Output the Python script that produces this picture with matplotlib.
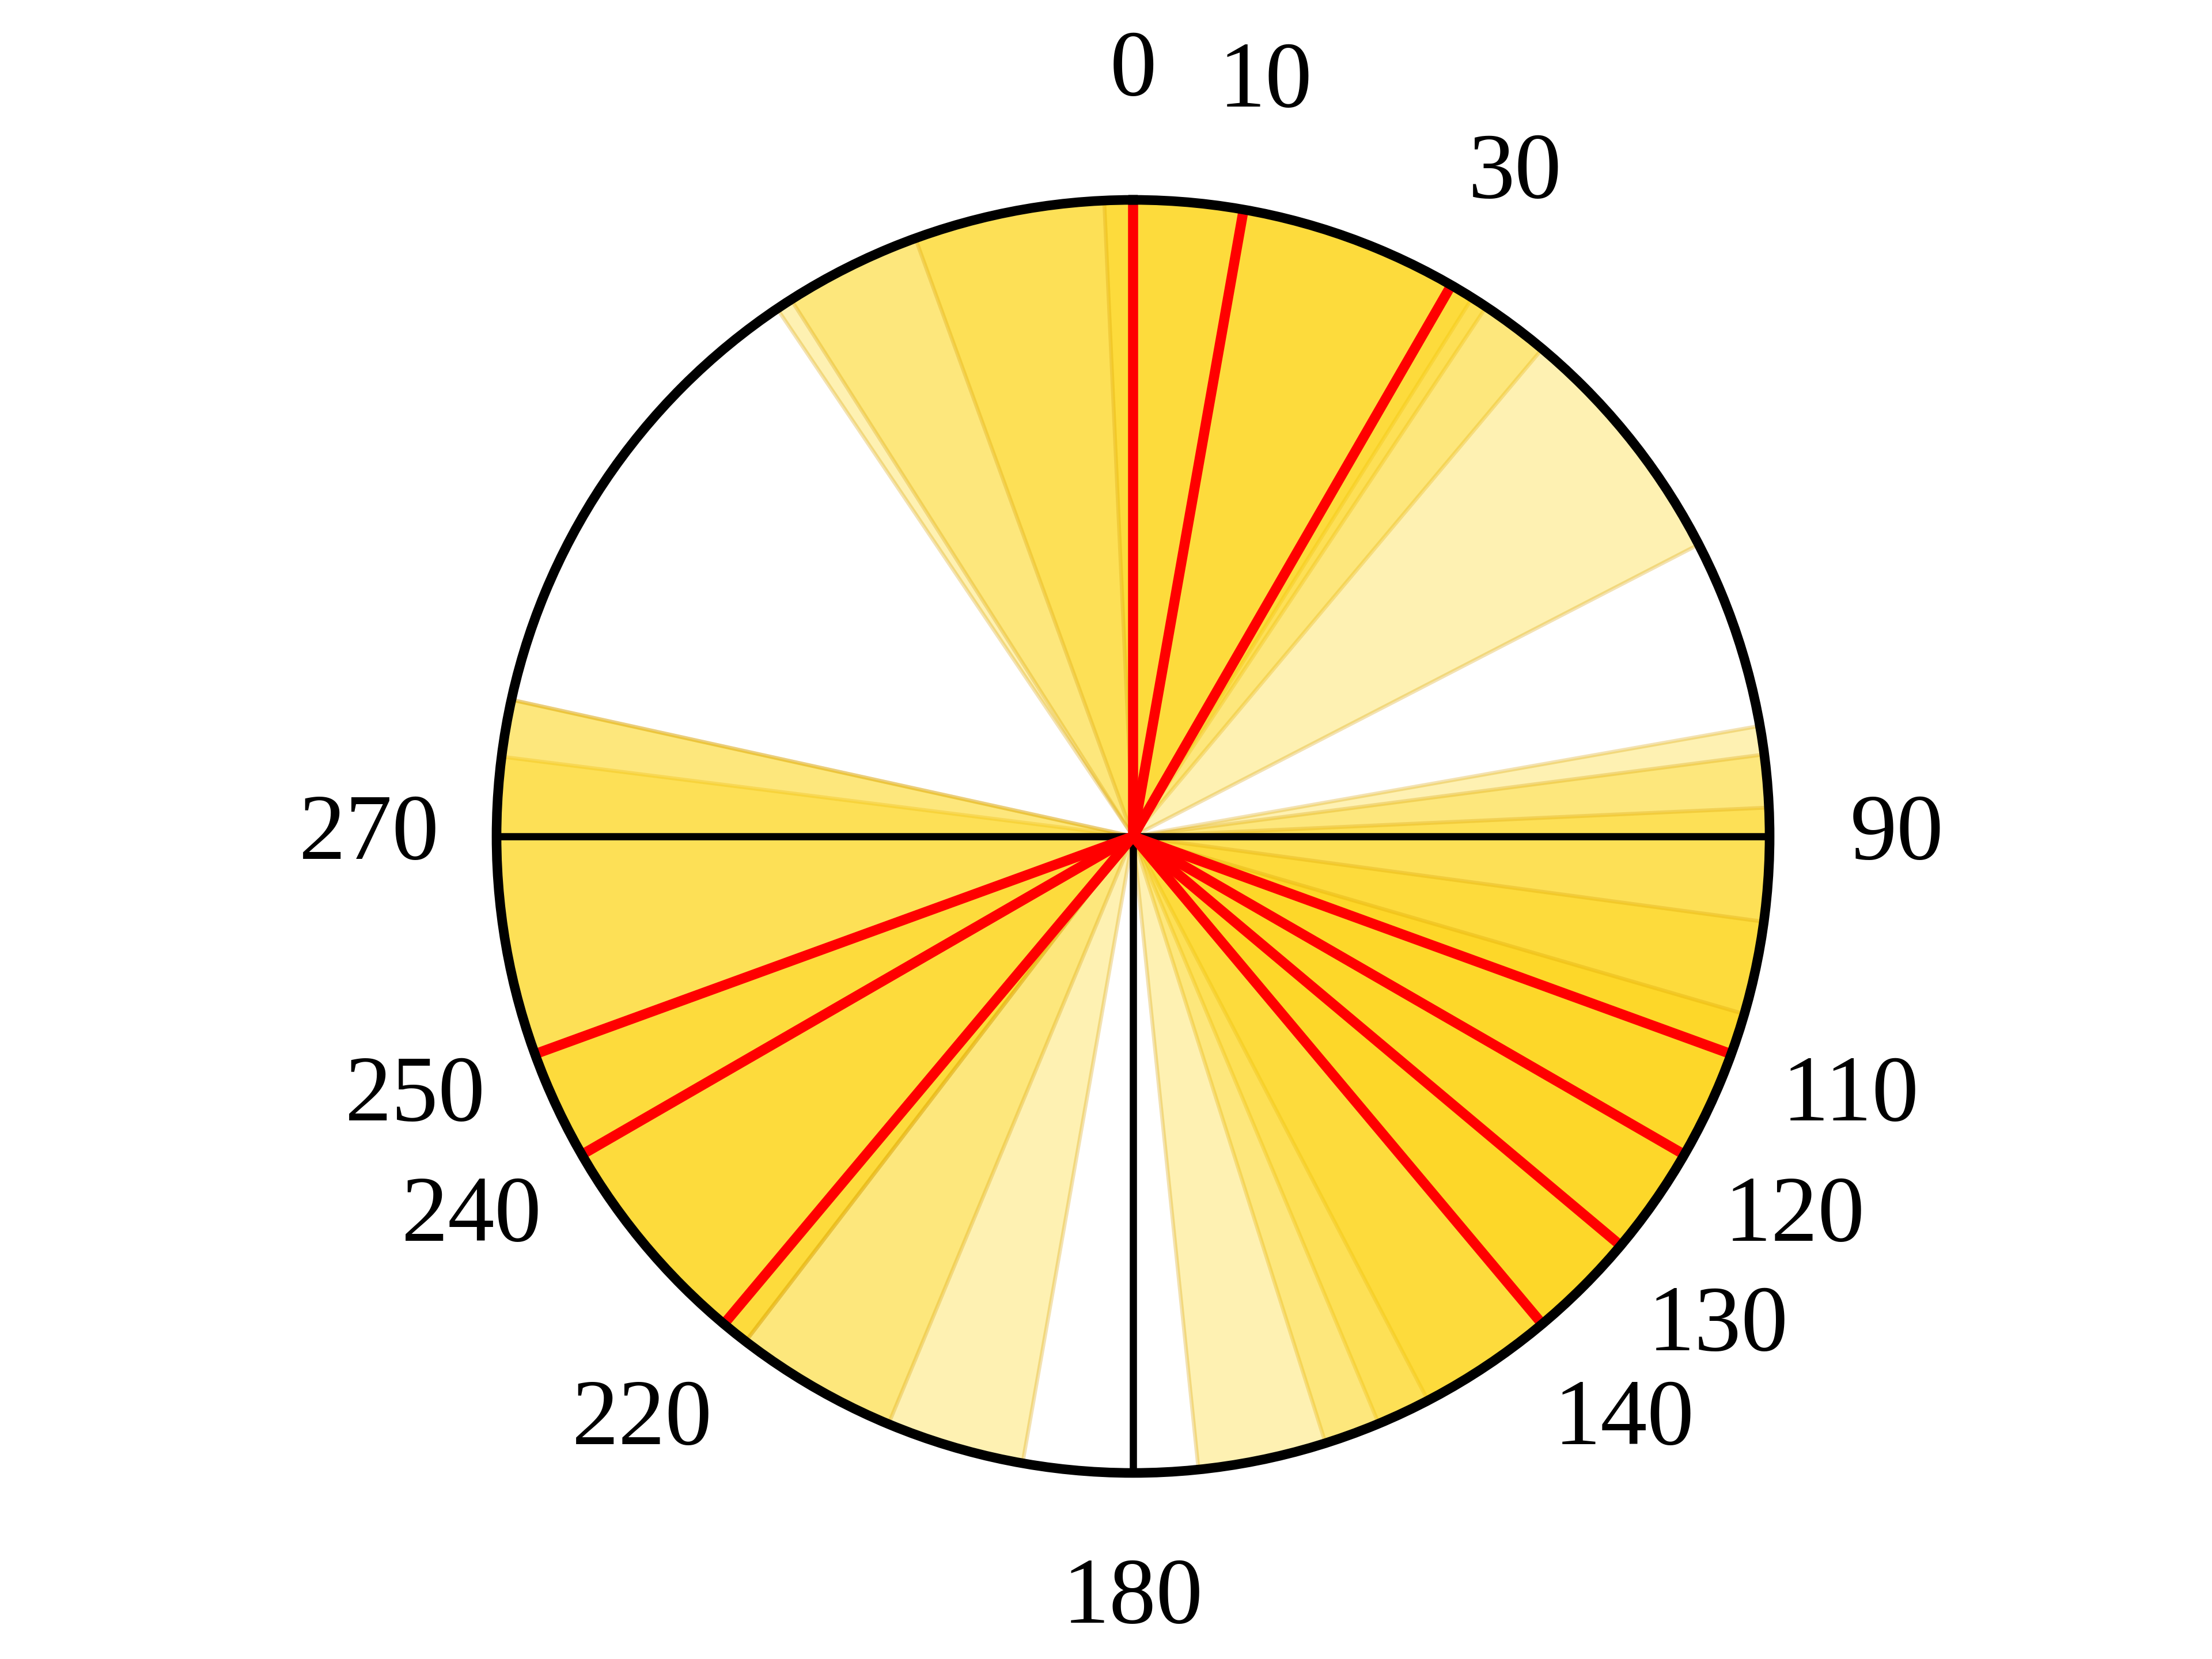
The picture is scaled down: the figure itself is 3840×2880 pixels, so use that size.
import numpy as np
import matplotlib
matplotlib.use("Agg")
import matplotlib.pyplot as plt

# wedges (compass degrees, clockwise from north): start -> end
wedge_start = [326.0, 327.5, 340.0, 357.4, 80.0, 82.6, 87.4, 97.7, 106.2, 190.0, 202.6, 217.5, 217.5]
wedge_end = [32.2, 33.7, 40.0, 62.7, 140.0, 157.3, 152.4, 162.4, 174.1, 250.0, 277.2, 282.4, 282.4]

# highlighted directions
red_dirs = [0, 10, 30, 110, 120, 130, 140, 220, 240, 250]
black_dirs = [0, 90, 180, 270]
label_dirs = [0, 10, 30, 90, 110, 120, 130, 140, 180, 220, 240, 250, 270]

plt.rcParams['font.family'] = ['Liberation Serif', 'DejaVu Serif']

fig = plt.figure(figsize=(12.8, 9.6), dpi=300)
cx, cy = 1967 / 3840, 1 - 1452 / 2880
rw, rh = 1105 / 3840, 1105 / 2880
ax = fig.add_axes([cx - rw, cy - rh, 2 * rw, 2 * rh], projection='polar')
ax.set_theta_zero_location('N')
ax.set_theta_direction(-1)
ax.set_ylim(0, 1)

start = np.array(wedge_start)
end = np.array(wedge_end)
width = (end - start) % 360
center = start + width / 2
ax.bar(np.deg2rad(center), 1.0, width=np.deg2rad(width), bottom=0,
       color='#FDD100', alpha=0.3, edgecolor='#D9A000', linewidth=1.6,
       align='center', zorder=1)

for d in black_dirs:
    t = np.deg2rad(d)
    ax.plot([t, t], [0, 1], color='black', lw=3.0, solid_capstyle='butt', zorder=2)
for d in red_dirs:
    t = np.deg2rad(d)
    ax.plot([t, t], [0, 1], color='red', lw=4.2, solid_capstyle='butt', zorder=3)

for d in label_dirs:
    ax.text(np.deg2rad(d), 1.2, str(d), ha='center', va='center',
            fontsize=39, clip_on=False)

ax.set_xticks([])
ax.set_yticks([])
ax.grid(False)
ax.spines['polar'].set_linewidth(4.0)
ax.spines['polar'].set_zorder(5)

fig.savefig('out.png', dpi=300)
